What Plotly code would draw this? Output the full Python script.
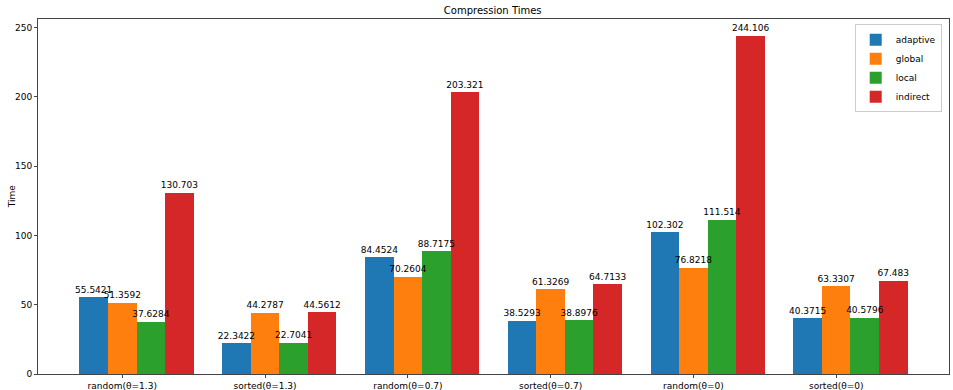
import plotly.graph_objects as go

categories = ["random(θ=1.3)", "sorted(θ=1.3)", "random(θ=0.7)", "sorted(θ=0.7)", "random(θ=0)", "sorted(θ=0)"]
series_names = ["adaptive", "global", "local", "indirect"]
adaptive = [55.5421, 22.3422, 84.4524, 38.5293, 102.302, 40.3715]
global_ = [51.3592, 44.2787, 70.2604, 61.3269, 76.8218, 63.3307]
local = [37.6284, 22.7041, 88.7175, 38.8976, 111.514, 40.5796]
indirect = [130.703, 44.5612, 203.321, 64.7133, 244.106, 67.483]
series_values = [adaptive, global_, local, indirect]
colors = ["#1f77b4", "#ff7f0e", "#2ca02c", "#d62728"]

width = 0.2
fig = go.Figure()
for i, (name, vals, c) in enumerate(zip(series_names, series_values, colors)):
    xs = [k + i * width for k in range(len(categories))]
    fig.add_trace(go.Bar(
        x=xs, y=vals, width=width, name=name,
        marker=dict(color=c, line=dict(width=0)),
    ))
for i, vals in enumerate(series_values):
    xs = [k + i * width for k in range(len(categories))]
    fig.add_trace(go.Scatter(
        x=xs, y=vals, mode="text+markers", text=[f"{v:g}" for v in vals],
        marker=dict(size=2, opacity=0),
        textposition="top center", showlegend=False, hoverinfo="skip",
        textfont=dict(size=9, color="black", family="DejaVu Sans"),
        cliponaxis=False,
    ))

fig.update_layout(
    width=953, height=390,
    margin=dict(l=38, r=4, t=19, b=16),
    plot_bgcolor="white", paper_bgcolor="white",
    font=dict(family="DejaVu Sans", size=9, color="black"),
    title=dict(text="Compression Times", x=0.517, xanchor="center", y=0.972, yanchor="middle",
               font=dict(size=10)),
    barmode="overlay", bargap=0,
    showlegend=True,
    legend=dict(x=0.992, y=0.985, xanchor="right", yanchor="top",
                bordercolor="#cccccc", borderwidth=1, bgcolor="rgba(255,255,255,0.8)",
                font=dict(size=9), tracegroupgap=0, itemwidth=30),
    annotations=[dict(text="Time", xref="paper", yref="paper", x=-0.0289, y=0.5,
                      xanchor="center", yanchor="middle", textangle=-90, showarrow=False,
                      font=dict(size=9))],
)
fig.update_xaxes(
    range=[-0.39, 5.99], automargin=False,
    tickvals=[k + width for k in range(len(categories))], ticktext=categories,
    showline=True, linecolor="#444", linewidth=1, mirror=True,
    ticks="outside", ticklen=3, tickcolor="#444", showgrid=False, zeroline=False,
    tickfont=dict(size=9),
)
fig.update_yaxes(
    range=[0, 256.3], tickvals=[0, 50, 100, 150, 200, 250], automargin=False,
    showline=True, linecolor="#444", linewidth=1, mirror=True,
    ticks="outside", ticklen=3, tickcolor="#444", showgrid=False, zeroline=False,
    tickfont=dict(size=9),
)
fig.write_html("out.html")
